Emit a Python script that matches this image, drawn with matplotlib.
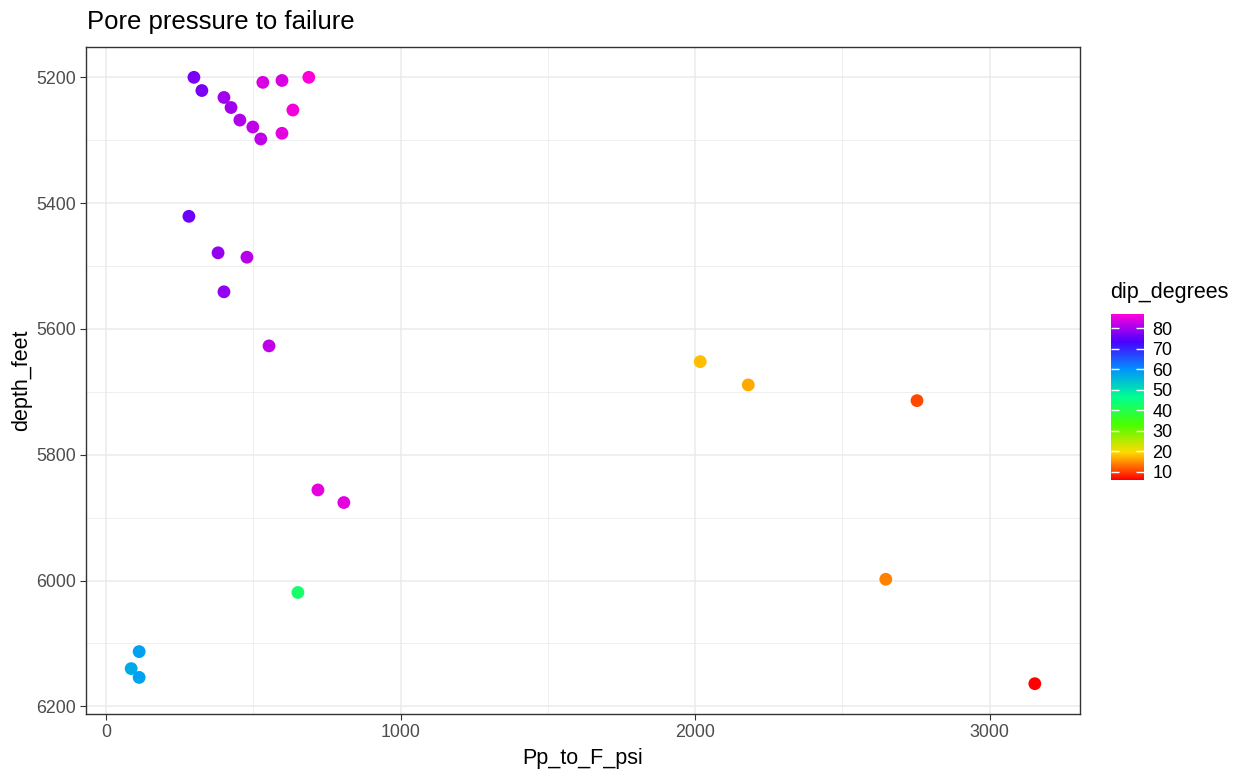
import numpy as np
import matplotlib
matplotlib.use("Agg")
import matplotlib.pyplot as plt
from matplotlib.colors import LinearSegmentedColormap, Normalize
from matplotlib.cm import ScalarMappable
from matplotlib.ticker import MultipleLocator

plt.rcParams['font.family'] = ['Liberation Sans', 'DejaVu Sans']

# Pore pressure to failure (psi), depth (ft), dip (degrees)
Pp_to_F_psi = [298, 325, 400, 424, 454, 498, 525, 532, 597, 688, 634, 597,
               281, 380, 478, 400, 553, 2017, 2180, 2753, 719, 807, 2647,
               651, 112, 85, 112, 3153]
depth_feet = [5200, 5221, 5232, 5248, 5268, 5279, 5298, 5208, 5205, 5200, 5252, 5289,
              5421, 5479, 5486, 5541, 5627, 5652, 5689, 5714, 5856, 5876, 5998,
              6019, 6113, 6140, 6154, 6164]
dip_degrees = [77, 77, 80, 80, 81, 82, 82, 84, 84, 87, 86, 85,
               76, 79, 81.5, 79, 82, 18, 16.5, 10.5, 85, 85, 14,
               43, 58, 57, 58, 6]

# R rainbow(7)
rainbow7 = ["#FF0000", "#FFDB00", "#49FF00", "#00FF92", "#0092FF", "#4900FF", "#FF00DB"]
cmap = LinearSegmentedColormap.from_list("rainbow7", rainbow7)
norm = Normalize(vmin=min(dip_degrees), vmax=max(dip_degrees))

fig = plt.figure(figsize=(12.45, 7.73), dpi=100)
ax = fig.add_axes([86/1245, 1 - 714/773, 994/1245, 667/773])

ax.scatter(Pp_to_F_psi, depth_feet, c=dip_degrees, cmap=cmap, norm=norm,
           s=85, linewidths=0, zorder=3)

# ggplot-style 5% expansion
x0, x1 = min(Pp_to_F_psi), max(Pp_to_F_psi)
y0, y1 = min(depth_feet), max(depth_feet)
ax.set_xlim(x0 - 0.05 * (x1 - x0), x1 + 0.05 * (x1 - x0))
ax.set_ylim(y1 + 0.05 * (y1 - y0), y0 - 0.05 * (y1 - y0))

ax.xaxis.set_major_locator(MultipleLocator(1000))
ax.xaxis.set_minor_locator(MultipleLocator(500))
ax.yaxis.set_major_locator(MultipleLocator(200))
ax.yaxis.set_minor_locator(MultipleLocator(100))

ax.grid(which='major', color='#EBEBEB', linewidth=1.1, zorder=0)
ax.grid(which='minor', color='#EBEBEB', linewidth=0.55, zorder=0)
ax.set_axisbelow(True)
for sp in ax.spines.values():
    sp.set_color('#333333')
    sp.set_linewidth(1.0)
ax.tick_params(which='major', length=4, width=0.8, color='#333333',
               labelsize=12.8, labelcolor='#4D4D4D', pad=3)
ax.tick_params(which='minor', length=0)

ax.set_xlabel('Pp_to_F_psi', fontsize=15.5, labelpad=5)
ax.set_ylabel('depth_feet', fontsize=15.5, labelpad=3)
fig.text(87/1245, 1 - 22/773, 'Pore pressure to failure', fontsize=18.5,
         ha='left', va='center')

# colour bar
cax = fig.add_axes([1111/1245, 1 - 480/773, 33/1245, 166/773])
cb = fig.colorbar(ScalarMappable(norm=norm, cmap=cmap), cax=cax)
cb.outline.set_visible(False)
cb.set_ticks([10, 20, 30, 40, 50, 60, 70, 80])
cax.tick_params(axis='y', direction='in', color='white', length=6, width=1,
                left=True, right=True, labelsize=13, labelcolor='black', pad=6)
fig.text(1110/1245, 1 - 293/773, 'dip_degrees', fontsize=15.5, va='center', ha='left')

fig.savefig('out.png', dpi=100)
